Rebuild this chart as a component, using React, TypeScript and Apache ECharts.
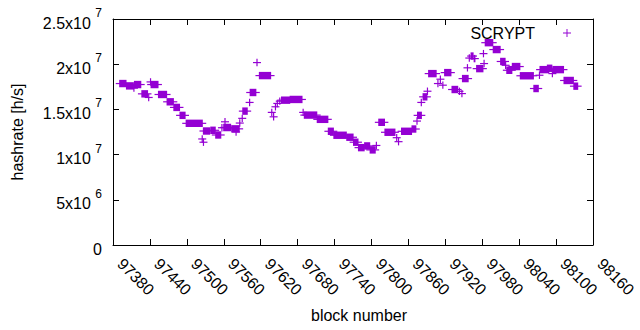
import React, { useEffect, useRef } from "react";
import * as echarts from "echarts";

// Runs of consecutive blocks sharing the same hashrate (a single block when start === end)
const runStart = [
  97391, 97402, 97414, 97415, 97427, 97438, 97441, 97442, 97454, 97468,
  97479, 97489, 97499, 97525, 97527, 97527, 97539, 97547, 97557, 97560,
  97562, 97573, 97580, 97586, 97590, 97591, 97602, 97603, 97614, 97618,
  97638, 97641, 97644, 97647, 97651, 97654, 97668, 97689, 97691, 97712,
  97730, 97739, 97760, 97771, 97779, 97789, 97798, 97808, 97812, 97822,
  97841, 97844, 97849, 97866, 97874, 97875, 97881, 97884, 97891, 97893,
  97908, 97912, 97916, 97919, 97931, 97943, 97947, 97948, 97956, 97959,
  97962, 97967, 97971, 97982, 97983, 97985, 97998, 98010, 98018, 98020,
  98029, 98042, 98064, 98073, 98074, 98086, 98094, 98095, 98113, 98129,
];
const runEnd = [
  97401, 97413, 97414, 97425, 97436, 97438, 97441, 97453, 97467, 97478,
  97488, 97497, 97525, 97525, 97527, 97537, 97546, 97555, 97557, 97571,
  97562, 97585, 97580, 97586, 97590, 97598, 97602, 97612, 97614, 97636,
  97638, 97641, 97644, 97647, 97651, 97667, 97687, 97689, 97711, 97729,
  97738, 97759, 97770, 97778, 97788, 97797, 97806, 97808, 97821, 97838,
  97841, 97844, 97865, 97872, 97874, 97881, 97881, 97890, 97891, 97905,
  97908, 97912, 97916, 97929, 97940, 97943, 97947, 97957, 97956, 97959,
  97965, 97968, 97981, 97982, 97983, 97997, 98009, 98017, 98018, 98028,
  98041, 98063, 98071, 98073, 98088, 98093, 98094, 98112, 98128, 98135,
];
const hashrate = [
  1.786e7, 1.76e7, 1.735e7, 1.775e7, 1.672e7, 1.632e7, 1.804e7, 1.775e7, 1.665e7, 1.584e7,
  1.522e7, 1.434e7, 1.346e7, 1.173e7, 1.137e7, 1.261e7, 1.269e7, 1.217e7, 1.297e7, 1.3e7,
  1.363e7, 1.285e7, 1.25e7, 1.349e7, 1.401e7, 1.481e7, 1.577e7, 1.687e7, 2.018e7, 1.874e7,
  1.467e7, 1.418e7, 1.529e7, 1.566e7, 1.591e7, 1.602e7, 1.61e7, 1.467e7, 1.437e7, 1.39e7,
  1.258e7, 1.214e7, 1.192e7, 1.137e7, 1.077e7, 1.096e7, 1.052e7, 1.101e7, 1.357e7, 1.247e7,
  1.187e7, 1.143e7, 1.258e7, 1.283e7, 1.371e7, 1.434e7, 1.577e7, 1.639e7, 1.701e7, 1.896e7,
  1.786e7, 1.834e7, 1.768e7, 1.907e7, 1.72e7, 1.7e7, 1.675e7, 1.841e7, 1.96e7, 2.068e7,
  2.09e7, 2.062e7, 1.951e7, 2.117e7, 2.007e7, 2.238e7, 2.162e7, 2.03e7, 1.988e7, 1.933e7,
  1.974e7, 1.872e7, 1.731e7, 1.878e7, 1.94e7, 1.955e7, 1.896e7, 1.94e7, 1.82e7, 1.757e7,
];

const seriesName = "SCRYPT";
const xMin = 97380;
const xMax = 98160;
const xStep = 60;
const yMin = 0;
const yMax = 2.5e7;
const yStep = 5e6;
const yTickLabels = ["0", "5x10^6", "1x10^7", "1.5x10^7", "2x10^7", "2.5x10^7"];

const FONT = "'Liberation Sans', Arial, sans-serif";
const PURPLE = "#9400d3";
const FS = 16;

export default function App() {
  const ref = useRef<HTMLDivElement>(null);

  useEffect(() => {
    if (!ref.current) return;
    const chart = echarts.init(ref.current, null, { renderer: "svg" });

    const data = runStart.map((s, i) => [s, runEnd[i], hashrate[i]]);

    const axisLine = { show: true, onZero: false, lineStyle: { color: "#000", width: 1 } };
    const axisTick = { show: true, inside: true, length: 6, lineStyle: { color: "#000", width: 1 } };

    const yFormatter = (v: number) => {
      const idx = Math.round((v - yMin) / yStep);
      const lab = yTickLabels[idx] ?? String(v);
      const parts = lab.split("^");
      if (parts.length === 1) return "{b|" + parts[0] + "}";
      return "{b|" + parts[0] + " }{s|" + parts[1] + "}";
    };

    chart.setOption({
      animation: false,
      backgroundColor: "#fff",
      textStyle: { fontFamily: FONT },
      grid: { left: 113, right: 47, top: 19, bottom: 85, containLabel: false },
      legend: {
        data: [{ name: seriesName, icon: "path://M0,4.4H4.4V0H5.6V4.4H10V5.6H5.6V10H4.4V5.6H0Z" }],
        right: 64,
        top: 20,
        align: "right",
        itemWidth: 8,
        itemHeight: 8,
        textStyle: { fontSize: FS, color: "#000", fontFamily: FONT, padding: [0, 23, 0, 0] },
      },
      xAxis: [
        {
          type: "value",
          min: xMin,
          max: xMax,
          interval: xStep,
          position: "bottom",
          axisLine,
          axisTick,
          splitLine: { show: false },
          axisLabel: {
            rotate: -45,
            margin: 9,
            padding: [0, 0, 0, 10],
            fontSize: FS,
            color: "#000",
            fontFamily: FONT,
            showMinLabel: true,
            showMaxLabel: true,
            formatter: (v: number) => String(v),
          },
          name: "block number",
          nameLocation: "middle",
          nameGap: 62,
          nameTextStyle: { fontSize: FS, color: "#000", fontFamily: FONT, padding: [0, 0, 0, 12] },
        },
        {
          type: "value",
          min: xMin,
          max: xMax,
          interval: xStep,
          position: "top",
          axisLine,
          axisTick,
          splitLine: { show: false },
          axisLabel: { show: false },
        },
      ],
      yAxis: [
        {
          type: "value",
          min: yMin,
          max: yMax,
          interval: yStep,
          position: "left",
          axisLine,
          axisTick,
          splitLine: { show: false },
          axisLabel: {
            margin: 11,
            color: "#000",
            formatter: yFormatter,
            rich: {
              b: { fontSize: FS, fontFamily: FONT, color: "#000", lineHeight: 24, verticalAlign: "bottom" },
              s: { fontSize: 12, fontFamily: FONT, color: "#000", lineHeight: 13, verticalAlign: "top" },
            },
          },
          name: "hashrate [h/s]",
          nameLocation: "middle",
          nameGap: 88,
          nameRotate: 90,
          nameTextStyle: { fontSize: FS, color: "#000", fontFamily: FONT },
        },
        {
          type: "value",
          min: yMin,
          max: yMax,
          interval: yStep,
          position: "right",
          axisLine,
          axisTick,
          splitLine: { show: false },
          axisLabel: { show: false },
        },
      ],
      series: [
        {
          name: seriesName,
          type: "custom",
          xAxisIndex: 0,
          yAxisIndex: 0,
          itemStyle: { color: PURPLE },
          encode: { x: [0, 1], y: 2 },
          data,
          renderItem: (params: any, api: any) => {
            const b0 = api.value(0);
            const b1 = api.value(1);
            const v = api.value(2);
            const p0 = api.coord([b0, v]);
            const p1 = api.coord([b1, v]);
            return {
              type: "group",
              children: [
                {
                  type: "rect",
                  shape: { x: p0[0] - 0.6, y: p0[1] - 3.7, width: p1[0] - p0[0] + 1.2, height: 7.4 },
                  style: { fill: PURPLE },
                },
                {
                  type: "line",
                  shape: { x1: p0[0] - 4, y1: p0[1], x2: p1[0] + 4, y2: p1[1] },
                  style: { stroke: PURPLE, lineWidth: 1.2 },
                },
              ],
            };
          },
        },
      ],
    });

    return () => chart.dispose();
  }, []);

  return (
    <div
      ref={ref}
      style={{ position: "fixed", left: 0, top: 0, width: 640, height: 330, background: "#fff" }}
    />
  );
}
